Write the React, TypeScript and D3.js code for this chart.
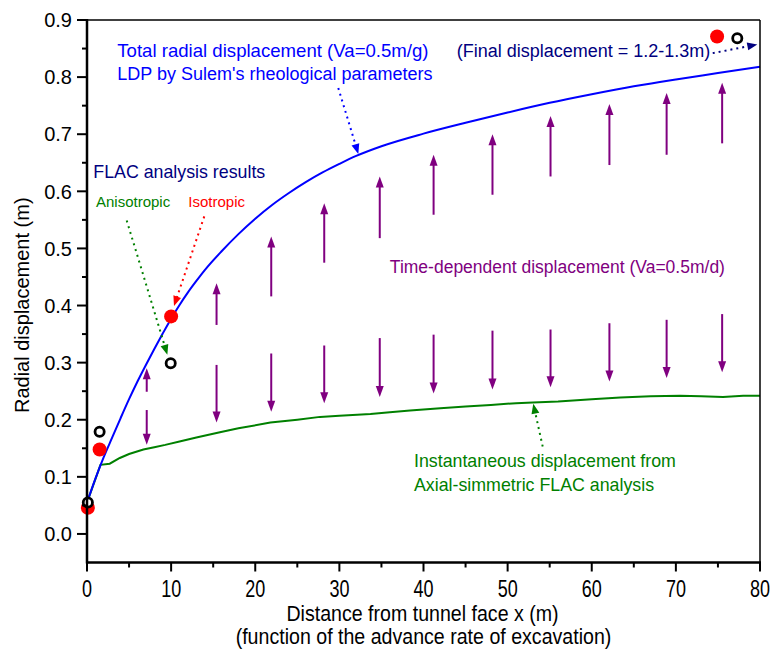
import React from "react";
import * as d3 from "d3";

const W = 771;
const H = 669;
const M = { left: 87, right: 760, top: 20, bottom: 562.5 };

// Total radial displacement (LDP, blue)
const blueX = [0, 1, 2, 3, 4, 5, 6, 7, 8, 9, 10, 11, 12, 13, 14, 16, 18, 20, 22, 24, 26, 28, 30, 32, 35, 40, 45, 50, 55, 60, 65, 70, 75, 80];
const blueY = [0.055, 0.097, 0.135, 0.169, 0.203, 0.236, 0.267, 0.296, 0.324, 0.351, 0.377, 0.401, 0.423, 0.443, 0.462, 0.495, 0.525, 0.552, 0.576, 0.597, 0.616, 0.633, 0.648, 0.662, 0.679, 0.701, 0.72, 0.738, 0.755, 0.77, 0.784, 0.796, 0.807, 0.818];

// Instantaneous displacement (FLAC, green)
const greenX = [0, 1.6, 2.7, 3.9, 5, 6.7, 8, 9.3, 11, 13, 15.8, 18, 21.8, 25, 27.7, 30, 33.7, 36, 38.4, 42, 45, 48, 51, 53, 56, 60, 63.4, 67, 70.5, 73, 75.6, 78, 80];
const greenY = [0.055, 0.121, 0.123, 0.133, 0.14, 0.148, 0.152, 0.156, 0.162, 0.169, 0.178, 0.185, 0.195, 0.2, 0.205, 0.207, 0.21, 0.213, 0.216, 0.22, 0.223, 0.226, 0.229, 0.23, 0.232, 0.236, 0.239, 0.241, 0.242, 0.241, 0.24, 0.242, 0.242];

// Time-dependent displacement arrows
const arrowX = [7.1, 15.4, 21.9, 28.2, 34.8, 41.2, 48.2, 55.1, 62.1, 68.9, 75.5];
const upFrom = [0.249, 0.366, 0.416, 0.475, 0.518, 0.559, 0.594, 0.626, 0.646, 0.664, 0.684];
const upTo = [0.29, 0.439, 0.521, 0.579, 0.626, 0.664, 0.7, 0.732, 0.753, 0.772, 0.79];
const downFrom = [0.217, 0.296, 0.316, 0.33, 0.343, 0.349, 0.356, 0.358, 0.369, 0.375, 0.385];
const downTo = [0.156, 0.195, 0.214, 0.229, 0.24, 0.246, 0.253, 0.257, 0.267, 0.273, 0.283];

// FLAC results
const isoX = [0.1, 1.5, 10, 74.9];
const isoY = [0.046, 0.148, 0.381, 0.871];
const anisoX = [0.1, 1.5, 9.95, 77.3];
const anisoY = [0.055, 0.179, 0.299, 0.868];

const xTicks = [0, 10, 20, 30, 40, 50, 60, 70, 80];
const xMinor = [5, 15, 25, 35, 45, 55, 65, 75];
const yTicks = [0, 0.1, 0.2, 0.3, 0.4, 0.5, 0.6, 0.7, 0.8, 0.9];
const yMinor = [0.05, 0.15, 0.25, 0.35, 0.45, 0.55, 0.65, 0.75, 0.85];

const FONT = "'Liberation Sans', Arial, Helvetica, sans-serif";
const BLUE = "#0000ff";
const NAVY = "#000080";
const GREEN = "#008000";
const RED = "#ff0000";
const PURPLE = "#800080";

export default function App() {
  const x = d3.scaleLinear().domain([0, 80]).range([M.left, M.right]);
  const y = d3.scaleLinear().domain([-0.05, 0.9]).range([M.bottom, M.top]);

  const blueLine = d3
    .line<number>()
    .x((_, i) => x(blueX[i]))
    .y((d) => y(d))
    .curve(d3.curveMonotoneX)(blueY) as string;
  const greenLine = d3
    .line<number>()
    .x((_, i) => x(greenX[i]))
    .y((d) => y(d))
    .curve(d3.curveLinear)(greenY) as string;

  const arrowHead = (x1: number, y1: number, x2: number, y2: number, len: number, hw: number) => {
    const dx = x2 - x1;
    const dy = y2 - y1;
    const L = Math.hypot(dx, dy);
    const ux = dx / L;
    const uy = dy / L;
    const bx = x2 - ux * len;
    const by = y2 - uy * len;
    return `M${x2},${y2}L${bx - uy * hw},${by + ux * hw}L${bx + uy * hw},${by - ux * hw}Z`;
  };

  const dotted = (x1: number, y1: number, x2: number, y2: number, color: string, key: string) => {
    const X1 = x(x1), Y1 = y(y1), X2 = x(x2), Y2 = y(y2);
    const L = Math.hypot(X2 - X1, Y2 - Y1);
    const f = (L - 8) / L;
    return (
      <g key={key}>
        <line x1={X1} y1={Y1} x2={X1 + (X2 - X1) * f} y2={Y1 + (Y2 - Y1) * f} stroke={color} strokeWidth={2} strokeDasharray="2,4" />
        <path d={arrowHead(X1, Y1, X2, Y2, 10, 4)} fill={color} />
      </g>
    );
  };

  const arrow = (xv: number, from: number, to: number, key: string) => {
    const X = x(xv), Y1 = y(from), Y2 = y(to);
    const dir = Y2 < Y1 ? -1 : 1;
    return (
      <g key={key}>
        <line x1={X} y1={Y1} x2={X} y2={Y2 - dir * 8} stroke={PURPLE} strokeWidth={2} />
        <path d={arrowHead(X, Y1, X, Y2, 11, 4)} fill={PURPLE} />
      </g>
    );
  };

  return (
    <svg width={W} height={H} style={{ position: "absolute", left: 0, top: 0, background: "#fff" }} fontFamily={FONT}>
      <rect x={0} y={0} width={W} height={H} fill="#fff" />

      {/* curves */}
      <path d={greenLine} fill="none" stroke={GREEN} strokeWidth={2} />
      <path d={blueLine} fill="none" stroke={BLUE} strokeWidth={2} />

      {/* time-dependent arrows */}
      {arrowX.map((xv, i) => arrow(xv, upFrom[i], upTo[i], "u" + i))}
      {arrowX.map((xv, i) => arrow(xv, downFrom[i], downTo[i], "d" + i))}

      {/* FLAC points */}
      {isoX.map((xv, i) => (
        <circle key={"r" + i} cx={x(xv)} cy={y(isoY[i])} r={7} fill={RED} />
      ))}
      {anisoX.map((xv, i) => (
        <circle key={"a" + i} cx={x(xv)} cy={y(anisoY[i])} r={4.6} fill="#fff" stroke="#000" strokeWidth={2.8} />
      ))}

      {/* dotted annotation arrows */}
      {dotted(4.72, 0.549, 9.55, 0.314, GREEN, "ga")}
      {dotted(13.94, 0.556, 10.34, 0.399, RED, "ra")}
      {dotted(29.87, 0.781, 32.25, 0.6655, BLUE, "ba")}
      {dotted(74.38, 0.842, 79.68, 0.857, NAVY, "na")}
      {dotted(54.17, 0.153, 53.05, 0.228, GREEN, "ia")}

      {/* annotation text */}
      <text x={x(3.6)} y={y(0.835)} fontSize={18.6} fill={BLUE}>
        Total radial displacement (Va=0.5m/g)
      </text>
      <text x={x(3.6)} y={y(0.835) + 23} fontSize={18} fill={BLUE}>
        LDP by Sulem's rheological parameters
      </text>
      <text x={x(0.75)} y={y(0.6235)} fontSize={17.8} fill={NAVY}>
        FLAC analysis results
      </text>
      <text x={x(1.07)} y={y(0.572)} fontSize={15} fill={GREEN}>
        Anisotropic
      </text>
      <text x={x(12.04)} y={y(0.572)} fontSize={15} fill={RED}>
        Isotropic
      </text>
      <text x={x(43.95)} y={y(0.835)} fontSize={18} fill={NAVY}>
        (Final displacement = 1.2-1.3m)
      </text>
      <text x={x(36.0)} y={y(0.457)} fontSize={17.5} fill={PURPLE}>
        Time-dependent displacement (Va=0.5m/d)
      </text>
      <text x={x(38.87)} y={y(0.117)} fontSize={17.8} fill={GREEN}>
        Instantaneous displacement from
      </text>
      <text x={x(38.87)} y={y(0.117) + 23.4} fontSize={17.8} fill={GREEN}>
        Axial-simmetric FLAC analysis
      </text>

      {/* frame */}
      <line x1={M.left} y1={M.top} x2={M.right} y2={M.top} stroke="#000" strokeWidth={1.5} />
      <line x1={M.right} y1={M.top} x2={M.right} y2={M.bottom} stroke="#000" strokeWidth={1.5} />
      <line x1={M.left} y1={M.top - 1} x2={M.left} y2={M.bottom + 1} stroke="#000" strokeWidth={2.5} />
      <line x1={M.left - 1} y1={M.bottom} x2={M.right + 1} y2={M.bottom} stroke="#000" strokeWidth={2.5} />

      {/* y axis ticks */}
      {yTicks.map((t) => (
        <g key={"yt" + t}>
          <line x1={M.left - 10} x2={M.left} y1={y(t)} y2={y(t)} stroke="#000" strokeWidth={2} />
          <text x={M.left - 15} y={y(t)} dy="0.36em" textAnchor="end" fontSize={20} fill="#000">
            {d3.format(".1f")(t)}
          </text>
        </g>
      ))}
      {yMinor.map((t) => (
        <line key={"ym" + t} x1={M.left - 5} x2={M.left} y1={y(t)} y2={y(t)} stroke="#000" strokeWidth={2} />
      ))}

      {/* x axis ticks */}
      {xTicks.map((t) => (
        <g key={"xt" + t}>
          <line x1={x(t)} x2={x(t)} y1={M.bottom} y2={M.bottom + 9} stroke="#000" strokeWidth={2} />
          <text
            transform={`translate(${x(t)},${M.bottom + 34.5}) scale(1,1.28)`}
            textAnchor="middle"
            fontSize={18}
            fill="#000"
          >
            {t}
          </text>
        </g>
      ))}
      {xMinor.map((t) => (
        <line key={"xm" + t} x1={x(t)} x2={x(t)} y1={M.bottom} y2={M.bottom + 5} stroke="#000" strokeWidth={2} />
      ))}

      {/* axis titles */}
      <text
        transform={`translate(${(M.left + M.right) / 2 - 1},${M.bottom + 58}) scale(1,1.15)`}
        textAnchor="middle"
        fontSize={19.6}
        fill="#000"
      >
        Distance from tunnel face x (m)
      </text>
      <text
        transform={`translate(${(M.left + M.right) / 2},${M.bottom + 81}) scale(1,1.15)`}
        textAnchor="middle"
        fontSize={19.6}
        fill="#000"
      >
        (function of the advance rate of excavation)
      </text>
      <text
        transform={`translate(29,${(M.top + M.bottom) / 2 + 14}) rotate(-90)`}
        textAnchor="middle"
        fontSize={20}
        fill="#000"
      >
        Radial displacement (m)
      </text>
    </svg>
  );
}
